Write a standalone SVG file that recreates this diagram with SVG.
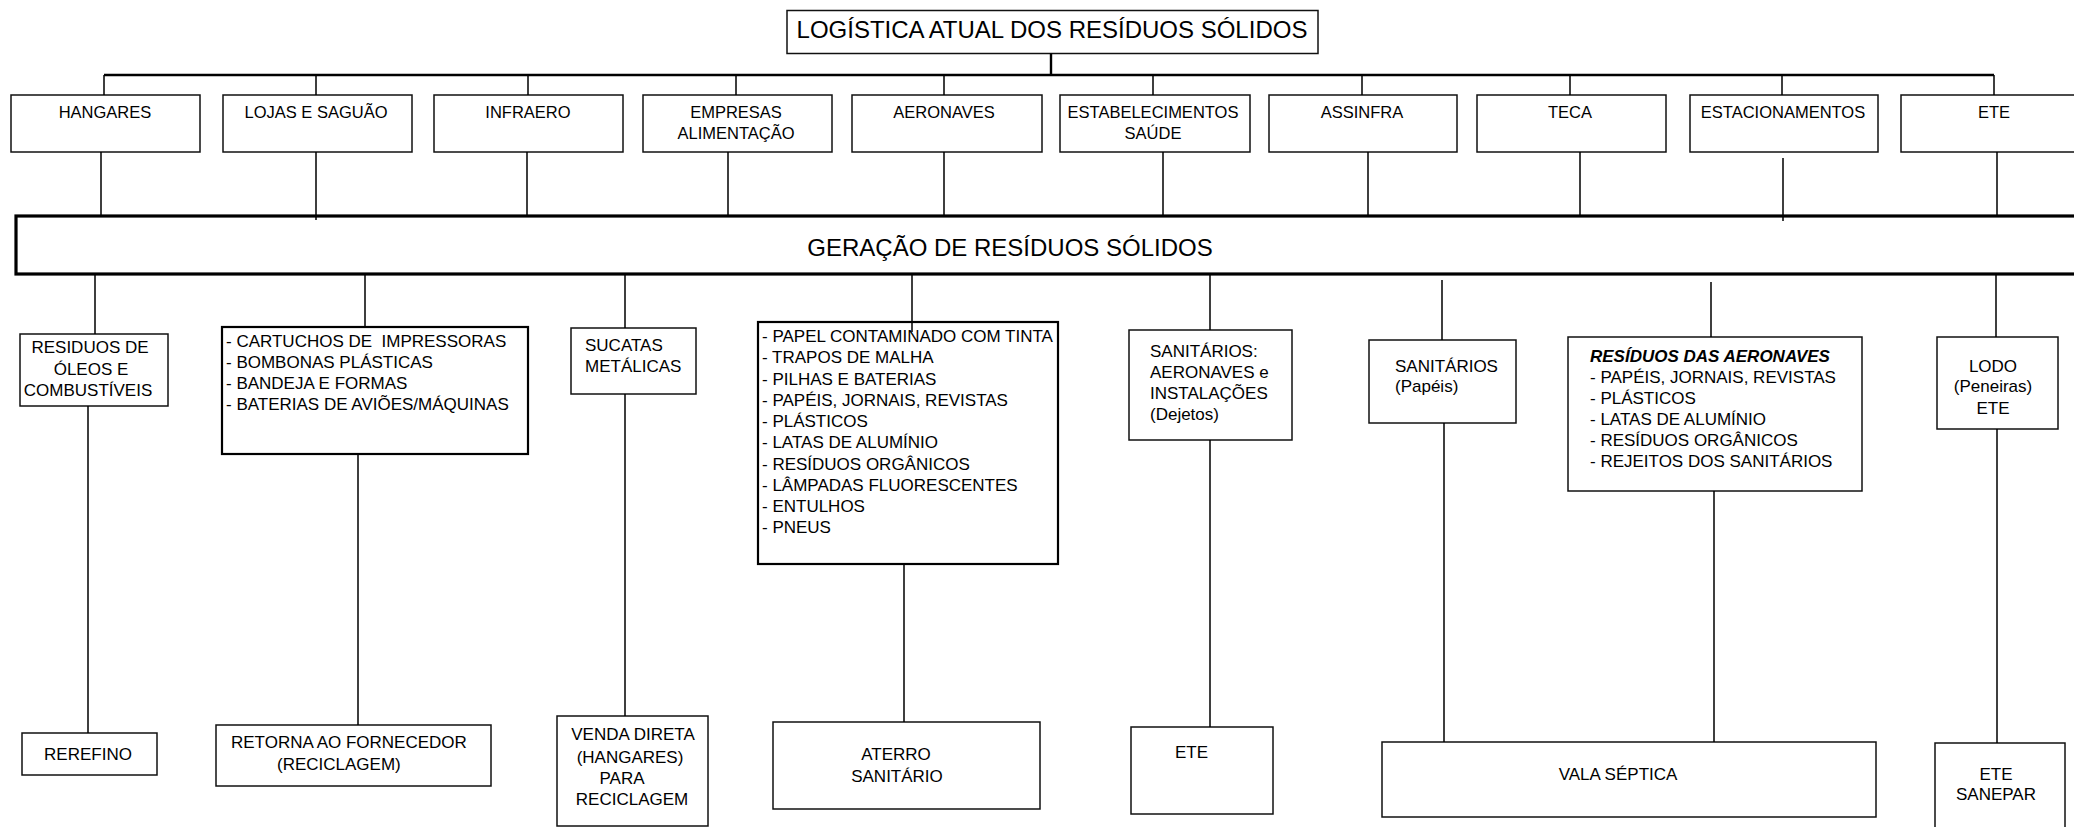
<svg xmlns="http://www.w3.org/2000/svg" width="2074" height="827" viewBox="0 0 2074 827">
  <style>
    .box { fill: #fff; stroke: #111; stroke-width: 1.5; }
    .box2 { fill: #fff; stroke: #000; stroke-width: 2.2; }
    .main { fill: #fff; stroke: #000; stroke-width: 3.2; }
    .t { font-family: "Liberation Sans", Arial, sans-serif; font-size: 16.5px; fill: #000; }
    .m { font-size: 17px; }
    .c { text-anchor: middle; }
    .big { font-family: "Liberation Sans", Arial, sans-serif; font-size: 24px; fill: #000; text-anchor: middle; }
    .bi { font-weight: bold; font-style: italic; }
    .ln { stroke: #000; stroke-width: 1.5; fill: none; }
    .bus { stroke: #000; stroke-width: 2.4; fill: none; }
  </style>

  <!-- title -->
  <g id="title">
    <rect class="box" x="787" y="10.5" width="531" height="43"/>
    <text class="big" x="1052" y="38">LOGÍSTICA ATUAL DOS RESÍDUOS SÓLIDOS</text>
  </g>

  <!-- sources -->
  <g id="hangares">
    <rect class="box" x="11" y="95" width="189" height="57"/>
    <text class="t c" x="105" y="118">HANGARES</text>
  </g>
  <g id="lojas">
    <rect class="box" x="223" y="95" width="189" height="57"/>
    <text class="t c" x="316" y="118">LOJAS E SAGUÃO</text>
  </g>
  <g id="infraero">
    <rect class="box" x="434" y="95" width="189" height="57"/>
    <text class="t c" x="528" y="118">INFRAERO</text>
  </g>
  <g id="empresas">
    <rect class="box" x="643" y="95" width="189" height="57"/>
    <text class="t c" x="736" y="118">EMPRESAS</text>
    <text class="t c" x="736" y="139">ALIMENTAÇÃO</text>
  </g>
  <g id="aeronaves">
    <rect class="box" x="852" y="95" width="190" height="57"/>
    <text class="t c" x="944" y="118">AERONAVES</text>
  </g>
  <g id="saude">
    <rect class="box" x="1060" y="95" width="190" height="57"/>
    <text class="t c" x="1153" y="118">ESTABELECIMENTOS</text>
    <text class="t c" x="1153" y="139">SAÚDE</text>
  </g>
  <g id="assinfra">
    <rect class="box" x="1269" y="95" width="188" height="57"/>
    <text class="t c" x="1362" y="118">ASSINFRA</text>
  </g>
  <g id="teca">
    <rect class="box" x="1477" y="95" width="189" height="57"/>
    <text class="t c" x="1570" y="118">TECA</text>
  </g>
  <g id="estacionamentos">
    <rect class="box" x="1690" y="95" width="188" height="57"/>
    <text class="t c" x="1783" y="118">ESTACIONAMENTOS</text>
  </g>
  <g id="ete-top">
    <rect class="box" x="1901" y="95" width="186" height="57"/>
    <text class="t c" x="1994" y="118">ETE</text>
  </g>

  <!-- generation band -->
  <g id="geracao">
    <rect class="main" x="16" y="216" width="2080" height="58"/>
    <text class="big" x="1010" y="256">GERAÇÃO DE RESÍDUOS SÓLIDOS</text>
  </g>

  <!-- waste types -->
  <g id="oleos">
    <rect class="box" x="20" y="334" width="148" height="72"/>
    <text class="t m c" x="90" y="353">RESIDUOS DE</text>
    <text class="t m c" x="91" y="375">ÓLEOS E</text>
    <text class="t m c" x="88" y="396">COMBUSTÍVEIS</text>
  </g>
  <g id="cartuchos">
    <rect class="box2" x="222" y="327" width="306" height="127"/>
    <text class="t m" x="226" y="347" xml:space="preserve">- CARTUCHOS DE  IMPRESSORAS</text>
    <text class="t m" x="226" y="368">- BOMBONAS PLÁSTICAS</text>
    <text class="t m" x="226" y="389">- BANDEJA E FORMAS</text>
    <text class="t m" x="226" y="410">- BATERIAS DE AVIÕES/MÁQUINAS</text>
  </g>
  <g id="sucatas">
    <rect class="box" x="571" y="328" width="125" height="66"/>
    <text class="t m" x="585" y="351">SUCATAS</text>
    <text class="t m" x="585" y="372">METÁLICAS</text>
  </g>
  <g id="diversos">
    <rect class="box2" x="758" y="322" width="300" height="242"/>
    <text class="t m" x="762" y="342">- PAPEL CONTAMINADO COM TINTA</text>
    <text class="t m" x="762" y="363">- TRAPOS DE MALHA</text>
    <text class="t m" x="762" y="384.5">- PILHAS E BATERIAS</text>
    <text class="t m" x="762" y="406">- PAPÉIS, JORNAIS, REVISTAS</text>
    <text class="t m" x="762" y="427">- PLÁSTICOS</text>
    <text class="t m" x="762" y="448">- LATAS DE ALUMÍNIO</text>
    <text class="t m" x="762" y="469.5">- RESÍDUOS ORGÂNICOS</text>
    <text class="t m" x="762" y="491">- LÂMPADAS FLUORESCENTES</text>
    <text class="t m" x="762" y="512">- ENTULHOS</text>
    <text class="t m" x="762" y="533">- PNEUS</text>
  </g>
  <g id="sanitarios-dejetos">
    <rect class="box" x="1129" y="330" width="163" height="110"/>
    <text class="t m" x="1150" y="357">SANITÁRIOS:</text>
    <text class="t m" x="1150" y="378">AERONAVES e</text>
    <text class="t m" x="1150" y="399">INSTALAÇÕES</text>
    <text class="t m" x="1150" y="420">(Dejetos)</text>
  </g>
  <g id="sanitarios-papeis">
    <rect class="box" x="1369" y="340" width="147" height="83"/>
    <text class="t m" x="1395" y="372">SANITÁRIOS</text>
    <text class="t m" x="1395" y="392">(Papéis)</text>
  </g>
  <g id="residuos-aeronaves">
    <rect class="box" x="1568" y="337" width="294" height="154"/>
    <text class="t m bi" x="1590" y="362">RESÍDUOS DAS AERONAVES</text>
    <text class="t m" x="1590" y="383">- PAPÉIS, JORNAIS, REVISTAS</text>
    <text class="t m" x="1590" y="404">- PLÁSTICOS</text>
    <text class="t m" x="1590" y="425">- LATAS DE ALUMÍNIO</text>
    <text class="t m" x="1590" y="446">- RESÍDUOS ORGÂNICOS</text>
    <text class="t m" x="1590" y="467">- REJEITOS DOS SANITÁRIOS</text>
  </g>
  <g id="lodo">
    <rect class="box" x="1937" y="337" width="121" height="92"/>
    <text class="t m c" x="1993" y="372">LODO</text>
    <text class="t m c" x="1993" y="392">(Peneiras)</text>
    <text class="t m c" x="1993" y="414">ETE</text>
  </g>

  <!-- destinations -->
  <g id="rerefino">
    <rect class="box" x="22" y="733" width="135" height="42"/>
    <text class="t m c" x="88" y="760">REREFINO</text>
  </g>
  <g id="retorna">
    <rect class="box" x="216" y="725" width="275" height="61"/>
    <text class="t m" x="231" y="748">RETORNA AO FORNECEDOR</text>
    <text class="t m" x="277" y="770">(RECICLAGEM)</text>
  </g>
  <g id="venda">
    <rect class="box" x="557" y="716" width="151" height="110"/>
    <text class="t m c" x="633" y="740">VENDA DIRETA</text>
    <text class="t m c" x="630" y="763">(HANGARES)</text>
    <text class="t m c" x="622" y="784">PARA</text>
    <text class="t m c" x="632" y="805">RECICLAGEM</text>
  </g>
  <g id="aterro">
    <rect class="box" x="773" y="722" width="267" height="87"/>
    <text class="t m c" x="896" y="760">ATERRO</text>
    <text class="t m c" x="897" y="782">SANITÁRIO</text>
  </g>
  <g id="ete-dejetos">
    <rect class="box" x="1131" y="727" width="142" height="87"/>
    <text class="t m" x="1175" y="758">ETE</text>
  </g>
  <g id="vala">
    <rect class="box" x="1382" y="742" width="494" height="75"/>
    <text class="t m c" x="1618" y="780">VALA SÉPTICA</text>
  </g>
  <g id="ete-sanepar">
    <rect class="box" x="1935" y="743" width="130" height="90"/>
    <text class="t m c" x="1996" y="780">ETE</text>
    <text class="t m c" x="1996" y="800">SANEPAR</text>
  </g>

  <!-- connectors -->
  <g id="connectors">
    <path class="bus" d="M1051 53.5V75M104 75H1994"/>
    <path class="ln" d="M104 75V95M316 75V95M528 75V95M736 75V95M944 75V95M1153 75V95M1362 75V95M1570 75V95M1782 75V95M1994 75V95"/>
    <path class="ln" d="M101 152V215M316 152V220M527 152V215M728 152V215M944 152V215M1163 152V215M1368 152V215M1580 152V215M1783 158V221M1997 152V215"/>
    <path class="ln" d="M95 275V334M365 275V327M625 275V328M912 275V332M1210 275V330M1442 280V340M1711 282V337M1996 275V337"/>
    <path class="ln" d="M88 406V733M358 454V725M625 394V716M904 564V722M1210 440V727M1444 423V742M1714 491V742M1997 429V743"/>
  </g>
</svg>
